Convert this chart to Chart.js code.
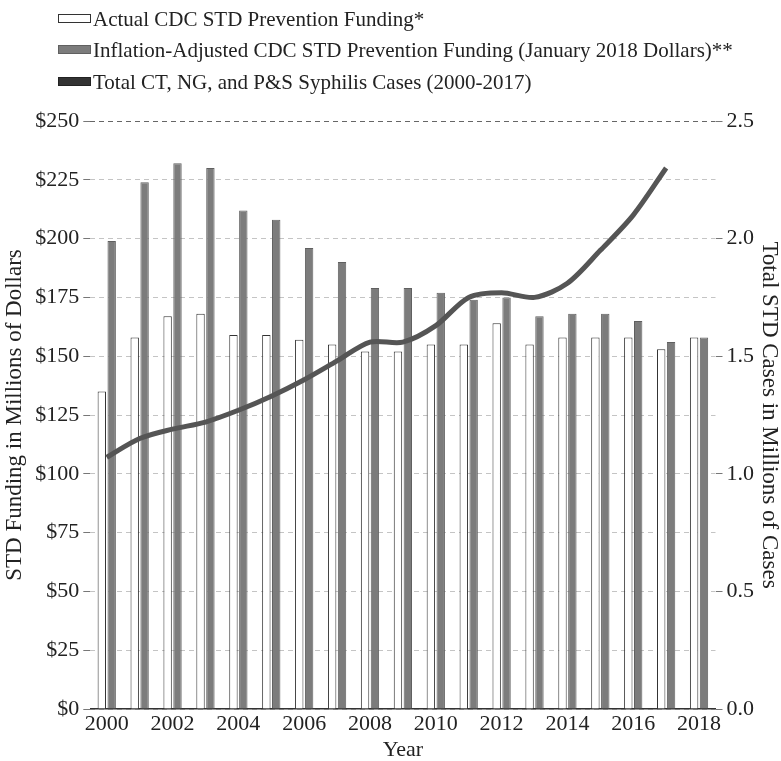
<!DOCTYPE html>
<html>
<head>
<meta charset="utf-8">
<script src="https://cdn.jsdelivr.net/npm/chart.js@4"></script>
<style>
  html, body { margin: 0; padding: 0; background: #fff; }
  #wrap { position: relative; width: 781px; height: 761px; }
  #legend { position: absolute; left: 0; top: 0; font-family: 'Liberation Serif', 'DejaVu Serif', serif; font-size: 21px; color: #222; }
  .item { position: absolute; left: 58px; white-space: nowrap; line-height: 24px; }
  .swatch { display: inline-block; width: 33px; height: 9px; margin-right: 2px; vertical-align: 3px; box-sizing: border-box; }
</style>
</head>
<body>
<div id="wrap"><canvas id="stdChart"></canvas><div id="legend"></div></div>
<script>
const years = ["2000","2001","2002","2003","2004","2005","2006","2007","2008","2009",
               "2010","2011","2012","2013","2014","2015","2016","2017","2018"];
// millions of dollars
const actualFunding = [135, 158, 167, 168, 159, 159, 157, 155, 152, 152,
                       155, 155, 164, 155, 158, 158, 158, 153, 158];
const adjustedFunding = [199, 224, 232, 230, 212, 208, 196, 190, 179, 179,
                         177, 174, 175, 167, 168, 168, 165, 156, 158];
// millions of cases, 2000-2017
const totalCases = [1.07, 1.15, 1.19, 1.22, 1.27, 1.33, 1.40, 1.48, 1.56, 1.56,
                    1.63, 1.75, 1.77, 1.75, 1.81, 1.95, 2.10, 2.30, null];

const serif = "'Liberation Serif', 'DejaVu Serif', serif";
Chart.defaults.font.family = serif;
Chart.defaults.color = '#222';

const cvs = document.getElementById('stdChart');

const chart = new Chart(cvs, {
    type: 'bar',
    data: {
        labels: years,
        datasets: [{
            label: 'Actual CDC STD Prevention Funding*',
            data: actualFunding,
            backgroundColor: '#ffffff',
            borderColor: '#333',
            borderWidth: 1,
            yAxisID: 'y',
            order: 2,
            barPercentage: 0.85,
            categoryPercentage: 0.6
        }, {
            label: 'Inflation-Adjusted CDC STD Prevention Funding (January 2018 Dollars)**',
            data: adjustedFunding,
            backgroundColor: '#7c7c7c',
            borderColor: '#606060',
            borderWidth: 1,
            yAxisID: 'y',
            order: 2,
            barPercentage: 0.85,
            categoryPercentage: 0.6
        }, {
            type: 'line',
            label: 'Total CT, NG, and P&S Syphilis Cases (2000-2017)',
            data: totalCases,
            borderColor: '#555',
            backgroundColor: '#333',
            borderWidth: 5,
            pointRadius: 0,
            tension: 0.3,
            fill: false,
            yAxisID: 'y1',
            order: 0
        }]
    },
    options: {
        maintainAspectRatio: false,
        animation: false,
        layout: { padding: { left: 2, right: 0, top: 121, bottom: 0 } },
        plugins: {
            tooltip: { enabled: false },
            legend: { display: false }
        },
        scales: {
            x: {
                grid: { display: false, drawTicks: false },
                border: { display: true, color: '#333', width: 1.5 },
                ticks: {
                    maxRotation: 0,
                    autoSkip: false,
                    padding: 4,
                    font: { size: 22, lineHeight: 1.0 },
                    color: '#222',
                    callback: function(v, i) { return i % 2 === 0 ? years[i] : ''; }
                },
                title: { display: true, text: 'Year', font: { size: 22, lineHeight: 1.0 }, color: '#222', padding: { top: 0, bottom: 0 } }
            },
            y: {
                position: 'left',
                min: 0,
                max: 250,
                ticks: {
                    stepSize: 25,
                    font: { size: 22 },
                    color: '#222',
                    padding: 4,
                    callback: v => '$' + v
                },
                grid: {
                    color: ctx => ctx.tick && ctx.tick.value === 250 ? '#666' : '#c4c4c4',
                    tickLength: 7,
                    tickColor: '#777'
                },
                border: { display: false, dash: [5, 4] },
                title: {
                    display: true,
                    text: 'STD Funding in Millions of Dollars',
                    font: { size: 23, lineHeight: 1.1 },
                    color: '#222',
                    padding: { top: 0, bottom: 4 }
                }
            },
            y1: {
                position: 'right',
                min: 0,
                max: 2.5,
                ticks: {
                    stepSize: 0.5,
                    font: { size: 22 },
                    color: '#222',
                    padding: 4,
                    callback: v => v.toFixed(1)
                },
                grid: { drawOnChartArea: false, tickLength: 7, tickColor: '#777' },
                border: { display: false },
                title: {
                    display: true,
                    text: 'Total STD Cases in Millions of Cases',
                    font: { size: 23, lineHeight: 1.0 },
                    color: '#222',
                    padding: { top: 0, bottom: 0 }
                }
            }
        }
    }
});

// legend stacked one item per row, like the original
const rowTops = [7, 38, 70];
const legend = document.getElementById('legend');
chart.data.datasets.forEach((ds, i) => {
    const row = document.createElement('div');
    row.className = 'item';
    row.style.top = rowTops[i] + 'px';
    const sw = document.createElement('span');
    sw.className = 'swatch';
    sw.style.background = ds.type === 'line' ? '#333' : ds.backgroundColor;
    sw.style.border = '1px solid ' + (ds.type === 'line' ? '#222' : ds.borderColor);
    row.appendChild(sw);
    row.appendChild(document.createTextNode(ds.label));
    legend.appendChild(row);
});
</script>
</body>
</html>
